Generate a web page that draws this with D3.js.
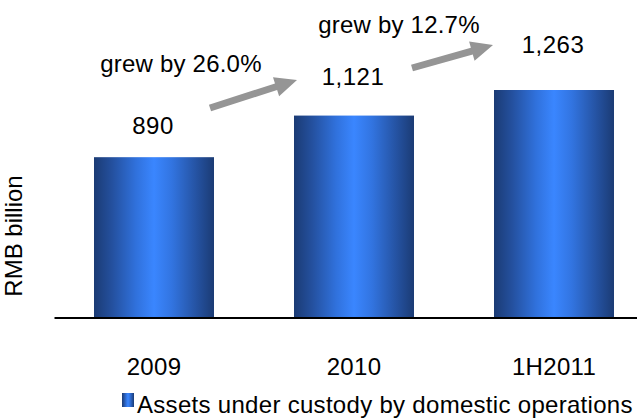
<!DOCTYPE html>
<html>
<head>
<meta charset="utf-8">
<script src="https://cdn.jsdelivr.net/npm/d3@7"></script>
<style>
  body { margin: 0; background: #fff; }
  svg { display: block; font-family: "Liberation Sans", Arial, sans-serif; }
</style>
</head>
<body>
<div id="chart"></div>
<script>
// Chart data
const categories = ['2009', '2010', '1H2011'];
const values = [890, 1121, 1263];
const valueLabels = ['890', '1,121', '1,263'];
const growthLabels = ['grew by 26.0%', 'grew by 12.7%'];
const legendLabel = 'Assets under custody by domestic operations';
const yTitle = 'RMB billion';

// Layout
const WIDTH = 637;
const HEIGHT = 420;
const BASELINE = 317.5;
const FONT = 24;
const LABEL_GAP = [23, 31, 37];
const ARROWS = [
  { x1: 210, y1: 108, x2: 297, y2: 80, tx: 181, ty: 72 },
  { x1: 412, y1: 68, x2: 493, y2: 45, tx: 399, ty: 33 }
];

const svg = d3.select('#chart')
  .append('svg')
  .attr('width', WIDTH)
  .attr('height', HEIGHT);

// horizontal gradient for the bars
const defs = svg.append('defs');
const grad = defs.append('linearGradient')
  .attr('id', 'barGrad')
  .attr('x1', '0%').attr('x2', '100%')
  .attr('y1', '0%').attr('y2', '0%');
[
  [0, '#1b3b74'],
  [0.15, '#24509e'],
  [0.35, '#3071dc'],
  [0.5, '#3a86ff'],
  [0.65, '#3274e0'],
  [0.85, '#2553a3'],
  [1, '#1b3b74']
].forEach(s => grad.append('stop').attr('offset', s[0]).attr('stop-color', s[1]));

const x = d3.scaleBand()
  .domain(categories)
  .range([54, 654])
  .paddingInner(0.4)
  .paddingOuter(0.2);

const y = d3.scaleLinear()
  .domain([0, 1263])
  .range([BASELINE, 90]);

// bars
svg.append('g')
  .selectAll('rect')
  .data(values)
  .join('rect')
  .attr('x', (d, i) => x(categories[i]))
  .attr('y', d => y(d))
  .attr('width', x.bandwidth())
  .attr('height', d => y(0) - y(d))
  .attr('fill', 'url(#barGrad)');

// value labels
svg.append('g')
  .selectAll('text')
  .data(values)
  .join('text')
  .attr('x', (d, i) => x(categories[i]) + x.bandwidth() / 2 - 1)
  .attr('y', (d, i) => y(d) - LABEL_GAP[i])
  .attr('text-anchor', 'middle')
  .attr('font-size', FONT)
  .attr('letter-spacing', 0.5)
  .attr('fill', '#000')
  .text((d, i) => valueLabels[i]);

// x axis
const xAxis = svg.append('g')
  .attr('transform', `translate(0,${BASELINE})`)
  .call(d3.axisBottom(x).tickSize(0).tickPadding(40));
xAxis.select('.domain')
  .attr('stroke', '#000')
  .attr('stroke-width', 2);
xAxis.selectAll('text')
  .attr('font-size', FONT)
  .attr('font-family', '"Liberation Sans", Arial, sans-serif')
  .attr('letter-spacing', 0.3)
  .attr('fill', '#000');

// y title
svg.append('text')
  .attr('transform', 'translate(22,236) rotate(-90)')
  .attr('text-anchor', 'middle')
  .attr('font-size', 24)
  .attr('fill', '#000')
  .text(yTitle);

// growth arrows
function arrowPath (a) {
  const dx = a.x2 - a.x1;
  const dy = a.y2 - a.y1;
  const len = Math.hypot(dx, dy);
  const ux = dx / len, uy = dy / len;
  const nx = -uy, ny = ux;
  const shaft = 3.5, head = 10, headLen = 22;
  const bx = a.x2 - ux * headLen, by = a.y2 - uy * headLen;
  const pts = [
    [a.x1 + nx * shaft, a.y1 + ny * shaft],
    [bx + nx * shaft, by + ny * shaft],
    [bx + nx * head, by + ny * head],
    [a.x2, a.y2],
    [bx - nx * head, by - ny * head],
    [bx - nx * shaft, by - ny * shaft],
    [a.x1 - nx * shaft, a.y1 - ny * shaft]
  ];
  return 'M' + pts.map(p => p.join(',')).join('L') + 'Z';
}

svg.append('g')
  .selectAll('path')
  .data(ARROWS)
  .join('path')
  .attr('d', arrowPath)
  .attr('fill', '#959595');

svg.append('g')
  .selectAll('text')
  .data(ARROWS)
  .join('text')
  .attr('x', d => d.tx)
  .attr('y', d => d.ty)
  .attr('text-anchor', 'middle')
  .attr('font-size', FONT)
  .attr('letter-spacing', 0.2)
  .attr('fill', '#000')
  .text((d, i) => growthLabels[i]);

// legend
const legend = svg.append('g');
legend.append('rect')
  .attr('x', 122)
  .attr('y', 393)
  .attr('width', 12)
  .attr('height', 14)
  .attr('fill', 'url(#barGrad)');
legend.append('text')
  .attr('x', 137)
  .attr('y', 413)
  .attr('font-size', FONT)
  .attr('letter-spacing', 0.3)
  .attr('fill', '#000')
  .text(legendLabel);
</script>
</body>
</html>
